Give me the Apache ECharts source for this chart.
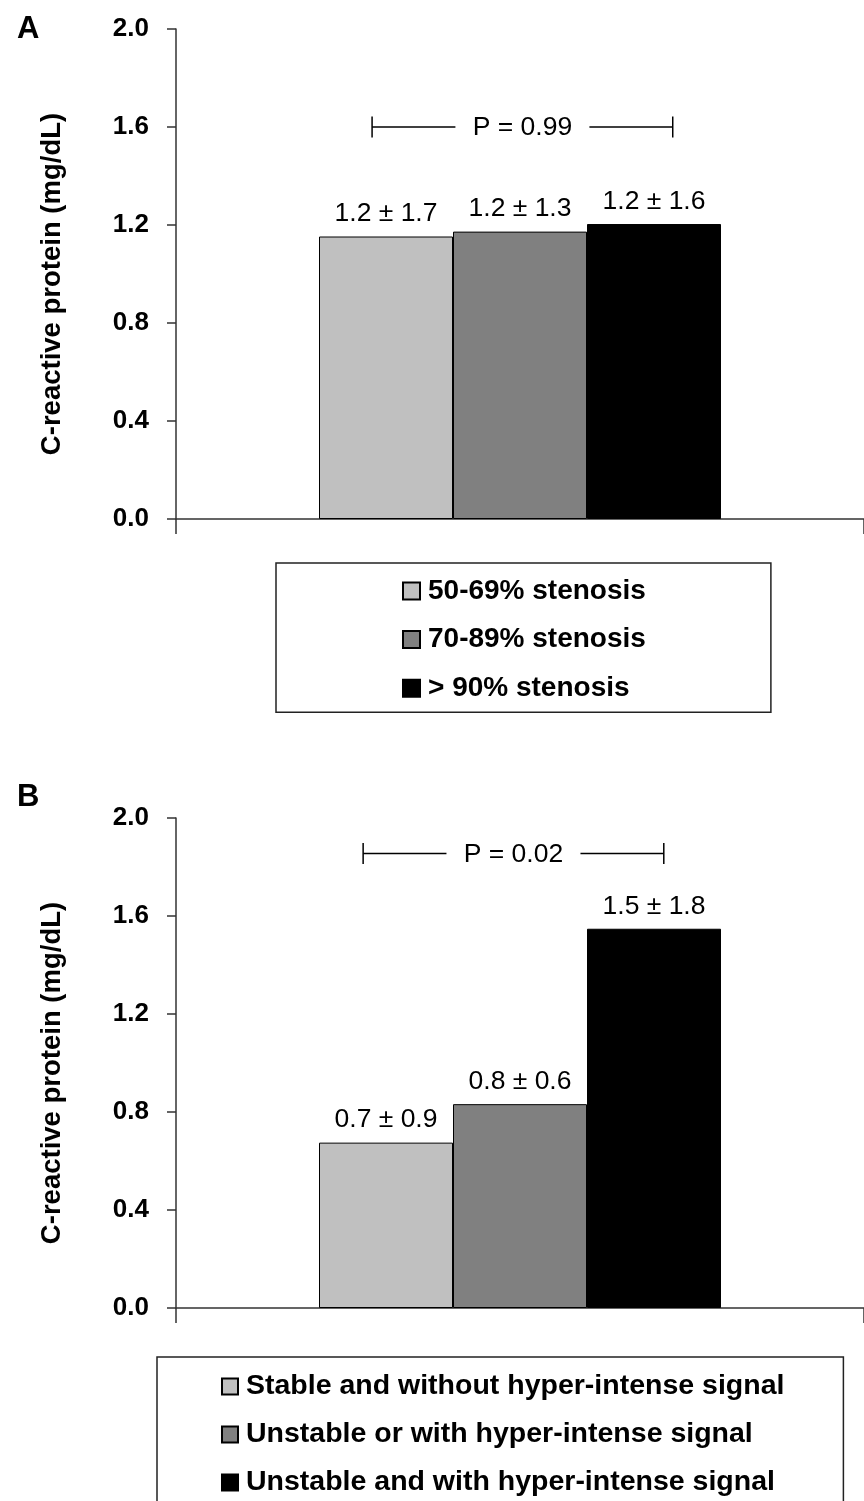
<!DOCTYPE html>
<html>
<head>
<meta charset="utf-8">
<script src="https://cdn.jsdelivr.net/npm/echarts@6/dist/echarts.min.js"></script>
<style>
  html, body { margin: 0; padding: 0; background: #fff; }
  #chart { width: 864px; height: 1501px; }
</style>
</head>
<body>
<div id="chart"></div>
<script>
var chart = echarts.init(document.getElementById('chart'));

// panel A: degree of stenosis
const groupsA = ['50-69% stenosis', '70-89% stenosis', '> 90% stenosis'];
const valuesA = [1.153, 1.173, 1.204];
const labelsA = ['1.2 ± 1.7', '1.2 ± 1.3', '1.2 ± 1.6'];
const pTextA = 'P = 0.99';

// panel B: plaque stability / signal
const groupsB = ['Stable and without hyper-intense signal', 'Unstable or with hyper-intense signal', 'Unstable and with hyper-intense signal'];
const valuesB = [0.675, 0.832, 1.548];
const labelsB = ['0.7 ± 0.9', '0.8 ± 0.6', '1.5 ± 1.8'];
const pTextB = 'P = 0.02';

const barColors = ['#c0c0c0', '#808080', '#000000'];
const yName = 'C-reactive protein (mg/dL)';

const FONT = '"Liberation Sans", Arial, sans-serif';

// bracket spans on a hidden 0..1 axis: [from, to, y]
const bracketA = [[0.285, 0.722, 1.6]];
const bracketB = [[0.272, 0.709, 1.855]];

function makeBracket(text) {
  return function (params, api) {
    var y = api.value(2);
    var p1 = api.coord([api.value(0), y]);
    var p2 = api.coord([api.value(1), y]);
    var mid = (p1[0] + p2[0]) / 2;
    var gap = 67, cap = 10.5;
    var st = { stroke: '#000', lineWidth: 1.5 };
    return {
      type: 'group',
      children: [
        { type: 'line', shape: { x1: p1[0], y1: p1[1], x2: mid - gap, y2: p1[1] }, style: st },
        { type: 'line', shape: { x1: mid + gap, y1: p2[1], x2: p2[0], y2: p2[1] }, style: st },
        { type: 'line', shape: { x1: p1[0], y1: p1[1] - cap, x2: p1[0], y2: p1[1] + cap }, style: st },
        { type: 'line', shape: { x1: p2[0], y1: p2[1] - cap, x2: p2[0], y2: p2[1] + cap }, style: st },
        { type: 'text', x: mid, y: p1[1] + 1, style: { text: text, fill: '#000', fontSize: 26.5, fontFamily: FONT, align: 'center', verticalAlign: 'middle' } }
      ]
    };
  };
}

function yAxisFor(idx) {
  return {
    gridIndex: idx,
    type: 'value',
    min: 0,
    max: 2,
    interval: 0.4,
    name: yName,
    nameLocation: 'middle',
    nameRotate: 90,
    nameGap: 110,
    nameTextStyle: { fontSize: 27.5, fontWeight: 'bold', color: '#000', fontFamily: FONT, padding: [0, 20, 0, 0] },
    axisLine: { show: true, lineStyle: { color: '#333', width: 1.5 } },
    axisTick: { show: true, length: 9, lineStyle: { color: '#333', width: 1.5 } },
    axisLabel: {
      margin: 27,
      fontSize: 26,
      fontWeight: 'bold',
      color: '#000',
      fontFamily: FONT,
      formatter: function (v) { return v.toFixed(1); }
    },
    splitLine: { show: false }
  };
}

function catAxisFor(idx) {
  return {
    gridIndex: idx,
    type: 'category',
    data: [''],
    axisLine: { show: true, lineStyle: { color: '#333', width: 1.5 } },
    axisTick: { show: true, length: 15, lineStyle: { color: '#333', width: 1.5 } },
    axisLabel: { show: false }
  };
}

function hiddenAxisFor(idx) {
  return { gridIndex: idx, type: 'value', min: 0, max: 1, show: false };
}

function barSeries(names, values, labels, gridIdx) {
  return names.map(function (n, i) {
    return {
      name: n,
      type: 'bar',
      xAxisIndex: gridIdx * 2,
      yAxisIndex: gridIdx,
      barWidth: 134,
      barGap: '0%',
      data: [values[i]],
      itemStyle: { color: barColors[i], borderColor: '#000', borderWidth: 1 },
      label: {
        show: true,
        position: 'top',
        distance: 9,
        formatter: labels[i],
        fontSize: 26.5,
        color: '#000',
        fontFamily: FONT
      }
    };
  });
}

function legendFor(names, opts) {
  return {
    data: names,
    orient: 'vertical',
    left: opts.left,
    top: opts.top,
    height: 400,
    padding: opts.padding,
    icon: 'rect',
    itemWidth: opts.icon,
    itemHeight: opts.icon,
    itemGap: opts.gap,
    selectedMode: false,
    borderColor: '#222',
    borderWidth: 1.5,
    textStyle: {
      fontSize: opts.fontSize,
      fontWeight: 'bold',
      color: '#000',
      fontFamily: FONT,
      padding: [0, 0, 0, 3],
      width: opts.textWidth
    }
  };
}

var option = {
  backgroundColor: '#fff',
  animation: false,
  title: [
    { text: 'A', left: 12, top: 9, textStyle: { fontSize: 31, fontWeight: 'bold', color: '#000', fontFamily: FONT } },
    { text: 'B', left: 12, top: 777, textStyle: { fontSize: 31, fontWeight: 'bold', color: '#000', fontFamily: FONT } }
  ],
  grid: [
    { left: 176, right: -6, top: 29, height: 490 },
    { left: 176, right: -6, top: 818, height: 490 }
  ],
  xAxis: [catAxisFor(0), hiddenAxisFor(0), catAxisFor(1), hiddenAxisFor(1)],
  yAxis: [yAxisFor(0), yAxisFor(1)],
  legend: [
    legendFor(groupsA, { left: 276, top: 563, padding: [14, 125, 10, 126], icon: 17, gap: 20.6, textWidth: 222, fontSize: 28 }),
    legendFor(groupsB, { left: 157, top: 1357, padding: [15, 59, 40, 64], icon: 16, gap: 19, textWidth: 546, fontSize: 28.5 })
  ],
  series: barSeries(groupsA, valuesA, labelsA, 0)
    .concat(barSeries(groupsB, valuesB, labelsB, 1))
    .concat([
      { type: 'custom', xAxisIndex: 1, yAxisIndex: 0, data: bracketA, renderItem: makeBracket(pTextA), silent: true, z: 5 },
      { type: 'custom', xAxisIndex: 3, yAxisIndex: 1, data: bracketB, renderItem: makeBracket(pTextB), silent: true, z: 5 }
    ])
};

chart.setOption(option);
</script>
</body>
</html>
